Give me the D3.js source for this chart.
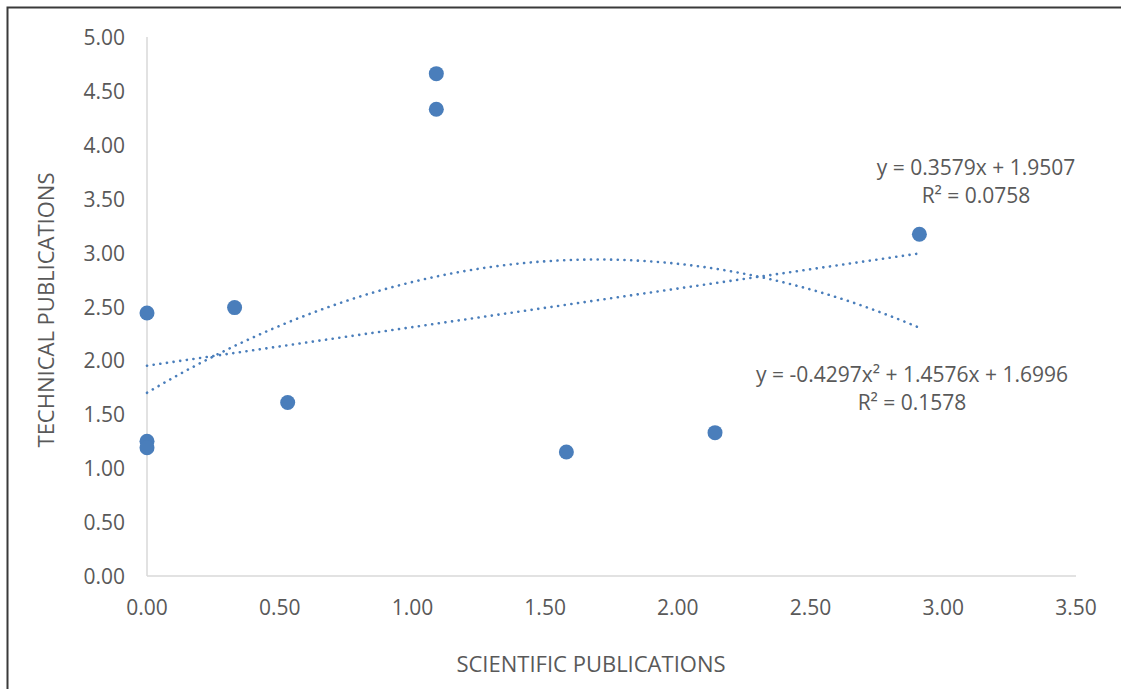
<!DOCTYPE html>
<html lang="en">
<head>
  <meta charset="UTF-8">
  <title>Scientific vs Technical Publications</title>
  <script src="https://d3js.org/d3.v7.min.js"></script>
  <style>
    body { margin: 0; background: #fff; }
    svg { display: block; font-family: "Open Sans", "Liberation Sans", sans-serif; }
    .tick-label { fill: #595959; font-size: 21px; }
    .axis-title { fill: #595959; font-size: 22px; }
    .eq { fill: #595959; font-size: 21px; }
  </style>
</head>
<body>
  <svg width="1121" height="689"></svg>

  <script>
    // points
    const sciPubs  = [0, 0, 0, 0.33, 0.53, 1.09, 1.09, 1.58, 2.14, 2.91];
    const techPubs = [2.44, 1.25, 1.19, 2.49, 1.61, 4.66, 4.33, 1.15, 1.33, 3.17];

    const xTicks = [0, 0.5, 1, 1.5, 2, 2.5, 3, 3.5];
    const yTicks = [0, 0.5, 1, 1.5, 2, 2.5, 3, 3.5, 4, 4.5, 5];

    // trendline coefficients as printed on the chart
    const linearCoef = [1.9507, 0.3579];            // a + b x
    const polyCoef = [1.6996, 1.4576, -0.4297];     // a + b x + c x^2
    const linearLabel = ["y = 0.3579x + 1.9507", "R² = 0.0758"];
    const polyLabel = ["y = -0.4297x² + 1.4576x + 1.6996", "R² = 0.1578"];

    const svg = d3.select("svg");
    const color = "#4a7ebb";

    // frame edge
    svg.append("rect")
      .attr("x", 7.5).attr("y", 7.5)
      .attr("width", 1200).attr("height", 800)
      .attr("fill", "none").attr("stroke", "#3a3a3a").attr("stroke-width", 2);

    const x = d3.scaleLinear().domain([0, 3.5]).range([147, 1076]);
    const y = d3.scaleLinear().domain([0, 5]).range([576, 37]);

    // axis lines
    svg.append("line")
      .attr("x1", x(0)).attr("x2", x(3.5)).attr("y1", y(0)).attr("y2", y(0))
      .attr("stroke", "#d9d9d9").attr("stroke-width", 1.5);
    svg.append("line")
      .attr("x1", x(0)).attr("x2", x(0)).attr("y1", y(0)).attr("y2", y(5))
      .attr("stroke", "#d9d9d9").attr("stroke-width", 1.5);

    svg.selectAll(".ylab").data(yTicks).enter().append("text")
      .attr("class", "tick-label")
      .attr("x", 125).attr("y", d => y(d) + 8)
      .attr("text-anchor", "end")
      .text(d => d.toFixed(2));

    svg.selectAll(".xlab").data(xTicks).enter().append("text")
      .attr("class", "tick-label")
      .attr("x", d => x(d)).attr("y", 615)
      .attr("text-anchor", "middle")
      .text(d => d.toFixed(2));

    svg.append("text").attr("class", "axis-title")
      .attr("transform", `translate(54,310) rotate(-90)`)
      .attr("text-anchor", "middle")
      .text("TECHNICAL PUBLICATIONS");

    svg.append("text").attr("class", "axis-title")
      .attr("x", 591).attr("y", 672)
      .attr("text-anchor", "middle")
      .text("SCIENTIFIC PUBLICATIONS");

    // trendlines over the data range
    const xMax = d3.max(sciPubs);
    const xs = d3.range(0, 101).map(i => xMax * i / 100);
    const line = d3.line().x(d => x(d[0])).y(d => y(d[1])).curve(d3.curveMonotoneX);

    const linPts = xs.map(v => [v, linearCoef[0] + linearCoef[1] * v]);
    const polyPts = xs.map(v => [v, polyCoef[0] + polyCoef[1] * v + polyCoef[2] * v * v]);

    [linPts, polyPts].forEach(pts => {
      svg.append("path")
        .datum(pts)
        .attr("d", line)
        .attr("fill", "none")
        .attr("stroke", color)
        .attr("stroke-width", 2.6)
        .attr("stroke-linecap", "round")
        .attr("stroke-dasharray", "0.1,6.6");
    });

    // points
    svg.selectAll(".pt").data(sciPubs).enter().append("circle")
      .attr("cx", (d, i) => x(d))
      .attr("cy", (d, i) => y(techPubs[i]))
      .attr("r", 7.5)
      .attr("fill", color);

    // equation labels
    function eqLabel(lines, cx, top) {
      lines.forEach((t, i) => {
        svg.append("text").attr("class", "eq")
          .attr("x", cx).attr("y", top + i * 28)
          .attr("text-anchor", "middle")
          .text(t);
      });
    }
    eqLabel(linearLabel, 976, 175);
    eqLabel(polyLabel, 912, 382);
  </script>
</body>
</html>
